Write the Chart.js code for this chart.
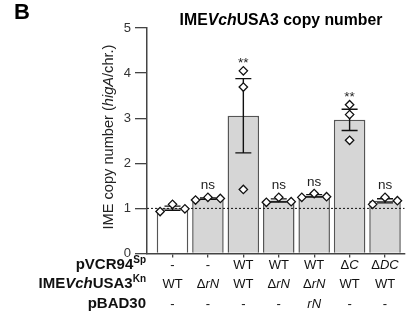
<!DOCTYPE html>
<html>
<head>
<meta charset="utf-8">
<script src="https://cdn.jsdelivr.net/npm/chart.js@4"></script>
<style>
  html, body { margin: 0; padding: 0; background: #fff; }
</style>
</head>
<body>
<canvas id="copyChart" width="410" height="324"></canvas>
<script>
// Values
const pVCR94 = ["-", "-", "WT", "WT", "WT", "ΔC", "ΔDC"];
const imeStrain = ["WT", "ΔrN", "WT", "ΔrN", "ΔrN", "WT", "WT"];
const pBAD30 = ["-", "-", "-", "-", "rN", "-", "-"];
const replicates = [
    [0.93, 1.09, 0.99],
    [1.185, 1.245, 1.22],
    [4.05, 3.69, 1.42],
    [1.135, 1.245, 1.15],
    [1.245, 1.33, 1.26],
    [3.30, 3.08, 2.51],
    [1.09, 1.245, 1.17],
];
const significance = ["", "ns", "**", "ns", "ns", "**", "ns"];
const yTicks = [0, 1, 2, 3, 4, 5];
const baseline = 1;

const FONT = '"Liberation Sans", Arial, sans-serif';
const barFills = ["#ffffff", "#d6d6d6", "#d6d6d6", "#d6d6d6", "#d6d6d6", "#d6d6d6", "#d6d6d6"];

function mean(a) {
    return a.reduce((s, v) => s + v, 0) / a.length;
}

function sem(a) {
    const m = mean(a);
    const sd = Math.sqrt(a.reduce((s, v) => s + (v - m) * (v - m), 0) / (a.length - 1));
    return sd / Math.sqrt(a.length);
}

const barMeans = replicates.map(mean);
const barErrors = replicates.map(sem);

// diamonds spread sideways when the replicates sit close together
const pointData = [];
replicates.forEach((reps, i) => {
    const close = Math.max(...reps) - Math.min(...reps) < 0.5;
    reps.forEach((v, k) => {
        pointData.push({ x: close ? i + (k - 1) * 0.35 : i, y: v });
    });
});

// Mixed-style text helpers (italic / superscript pieces)
function partFont(p, size, weight) {
    const s = p.sup ? Math.round(size * 0.65) : size;
    return (p.it ? "italic " : "") + weight + " " + s + "px " + FONT;
}

function drawRich(ctx, parts, x, y, size, weight, align) {
    let w = 0;
    parts.forEach((p) => {
        ctx.font = partFont(p, size, weight);
        w += ctx.measureText(p.t).width;
    });
    let cx = align === "right" ? x - w : align === "center" ? x - w / 2 : x;
    ctx.textAlign = "left";
    ctx.textBaseline = "alphabetic";
    parts.forEach((p) => {
        ctx.font = partFont(p, size, weight);
        ctx.fillText(p.t, cx, p.sup ? y - size * 0.4 : y);
        cx += ctx.measureText(p.t).width;
    });
}

function cellParts(txt) {
    if (txt === "WT" || txt === "-") return [{ t: txt }];
    if (txt.startsWith("Δ")) return [{ t: "Δ" }, { t: txt.slice(1), it: true }];
    return [{ t: txt, it: true }];
}

const rowLabels = [
    [{ t: "pVCR94" }, { t: "Sp", sup: true }],
    [{ t: "IME" }, { t: "Vch", it: true }, { t: "USA3" }, { t: "Kn", sup: true }],
    [{ t: "pBAD30" }],
];
const rows = [pVCR94, imeStrain, pBAD30];

// Error bars, dotted baseline and significance marks
const errorBarPlugin = {
    id: "errorBars",
    afterDatasetDraw(chart, args) {
        if (args.index !== 1) return;
        const { ctx, scales: { x, y }, chartArea } = chart;
        ctx.save();
        ctx.strokeStyle = "#111";
        ctx.lineWidth = 1.4;
        barMeans.forEach((m, i) => {
            const px = x.getPixelForValue(i);
            const top = y.getPixelForValue(m + barErrors[i]);
            const bot = y.getPixelForValue(m - barErrors[i]);
            ctx.beginPath();
            ctx.moveTo(px, top);
            ctx.lineTo(px, bot);
            ctx.moveTo(px - 8, top);
            ctx.lineTo(px + 8, top);
            ctx.moveTo(px - 8, bot);
            ctx.lineTo(px + 8, bot);
            ctx.stroke();
        });
        // dotted reference line
        const by = y.getPixelForValue(baseline);
        ctx.setLineDash([2, 2]);
        ctx.lineWidth = 1;
        ctx.beginPath();
        ctx.moveTo(chartArea.left, by);
        ctx.lineTo(chartArea.right, by);
        ctx.stroke();
        ctx.restore();
    },
    afterDraw(chart) {
        const { ctx, scales: { x, y }, chartArea } = chart;
        ctx.save();
        ctx.fillStyle = "#222";
        ctx.textAlign = "center";
        ctx.textBaseline = "alphabetic";
        significance.forEach((s, i) => {
            if (!s) return;
            const topVal = Math.max(...replicates[i], barMeans[i] + barErrors[i]);
            const py = y.getPixelForValue(topVal) - 8;
            ctx.font = "13.5px " + FONT;
            ctx.fillText(s, x.getPixelForValue(i), s === "**" ? py + 4 : py);
        });

        // panel letter and title
        ctx.fillStyle = "#000";
        drawRich(ctx, [{ t: "B" }], 14, 19, 22, "bold", "left");
        drawRich(ctx, [{ t: "IME" }, { t: "Vch", it: true }, { t: "USA3 copy number" }], 281, 25, 15.8, "bold", "center");

        // y axis title
        ctx.save();
        ctx.translate(113, 137);
        ctx.rotate(-Math.PI / 2);
        ctx.fillStyle = "#222";
        drawRich(ctx, [{ t: "IME copy number (" }, { t: "higA", it: true }, { t: "/chr.)" }], 0, 0, 14.6, "normal", "center");
        ctx.restore();

        // condition table under the bars
        rows.forEach((row, r) => {
            const ry = chartArea.bottom + 15 + r * 19.7;
            ctx.fillStyle = "#111";
            drawRich(ctx, rowLabels[r], 146, ry, 15, "bold", "right");
            row.forEach((cell, i) => {
                drawRich(ctx, cellParts(cell), x.getPixelForValue(i), ry, 13, "normal", "center");
            });
        });
        ctx.restore();
    },
};

const ctx = document.getElementById("copyChart").getContext("2d");

new Chart(ctx, {
    data: {
        datasets: [
            {
                type: "scatter",
                data: pointData,
                pointStyle: "rectRot",
                pointRadius: 4.2,
                pointBackgroundColor: "#ffffff",
                pointBorderColor: "#111",
                pointBorderWidth: 1.3,
                order: 1,
            },
            {
                type: "bar",
                data: barMeans.map((m, i) => ({ x: i, y: m })),
                backgroundColor: barFills,
                borderColor: "#555",
                borderWidth: 1.5,
                barPercentage: 0.89,
                categoryPercentage: 1,
                order: 2,
            },
        ],
    },
    options: {
        responsive: false,
        devicePixelRatio: 1,
        animation: false,
        layout: { padding: { top: 28, right: 1, bottom: 0, left: 0 } },
        plugins: {
            legend: { display: false },
            tooltip: { enabled: false },
        },
        scales: {
            x: {
                type: "linear",
                offset: false,
                min: -0.72,
                max: 6.55,
                afterBuildTicks: (s) => {
                    s.ticks = replicates.map((_, i) => ({ value: i }));
                },
                afterFit: (s) => {
                    s.height = 70.5;
                },
                ticks: { display: false },
                grid: {
                    offset: false,
                    drawOnChartArea: false,
                    drawTicks: true,
                    tickLength: 4,
                    color: "#444",
                    lineWidth: 1.3,
                },
                border: { color: "#444", width: 1.5 },
            },
            y: {
                min: 0,
                max: 5,
                afterBuildTicks: (s) => {
                    s.ticks = yTicks.map((v) => ({ value: v }));
                },
                afterFit: (s) => {
                    s.width = 147;
                },
                ticks: {
                    color: "#333",
                    font: { family: FONT, size: 13 },
                    padding: 4,
                },
                grid: {
                    drawOnChartArea: false,
                    drawTicks: true,
                    tickLength: 12,
                    color: "#444",
                    lineWidth: 1.3,
                },
                border: { color: "#444", width: 1.5 },
            },
        },
    },
    plugins: [errorBarPlugin],
});
</script>
</body>
</html>
